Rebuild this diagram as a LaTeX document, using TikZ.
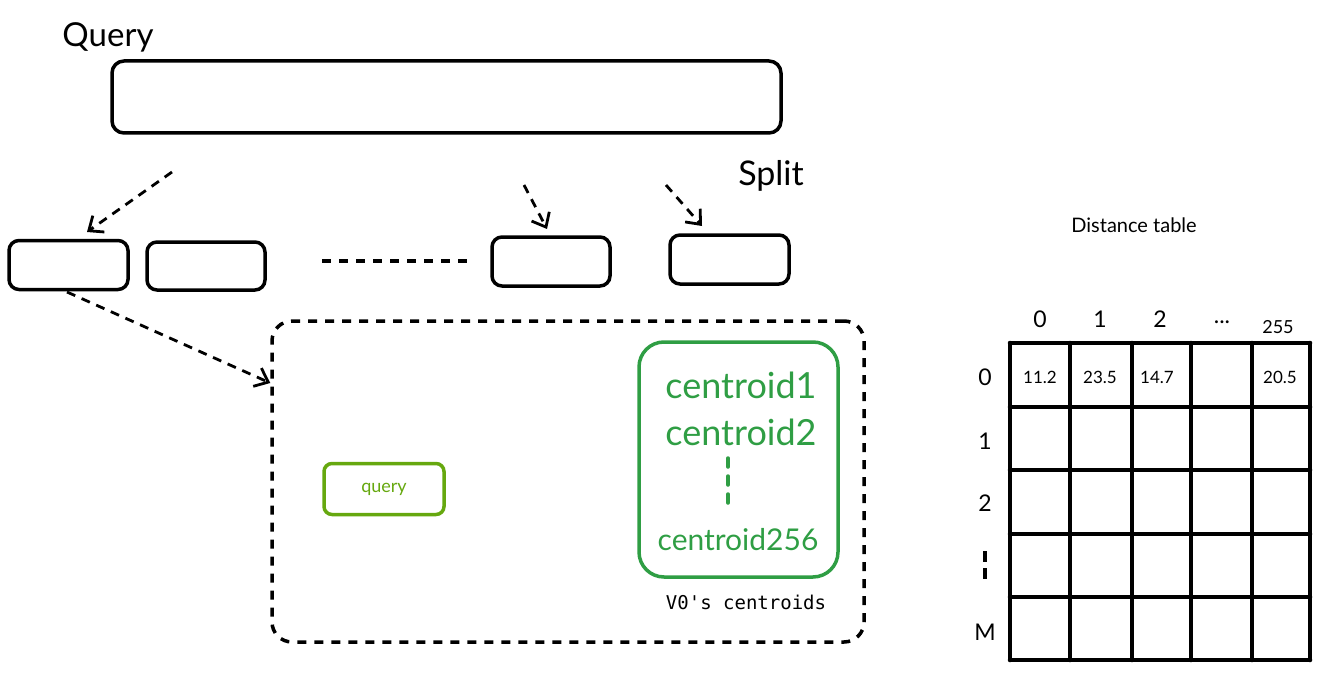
\documentclass[tikz,border=0pt]{standalone}
\usepackage{fontspec}
\setmainfont{Lato}
\newfontfamily\monofont{DejaVu Sans Mono}
\usetikzlibrary{arrows.meta}
\definecolor{cgreen}{HTML}{2F9E44}
\definecolor{qgreen}{HTML}{66A80F}
\tikzset{
  box/.style={draw, line width=3.5pt, rounded corners=10pt, minimum width=119pt, minimum height=49pt, inner sep=0pt},
  darr/.style={draw, line width=2.8pt, dash pattern=on 9pt off 7pt, -{Straight Barb[length=12pt,width=20pt,line width=2.8pt]}},
  dline/.style={draw, line width=3.5pt, dash pattern=on 9pt off 8pt},
  txt/.style={inner sep=0pt, font=\fontsize{#1}{#1}\selectfont},
  grid/.style={line width=4.5pt, line cap=round},
}
\begin{document}
\begin{tikzpicture}[x=1pt,y=-1pt]
\useasboundingbox (0,0) rectangle (1322,674);
% Query
\node[txt=33] (qlabel) at (108,37) {Query};
\node[box, minimum width=669pt, minimum height=72pt, rounded corners=12pt] (qbox) at (446.5,97) {};
\node[txt=34] (split) at (771,176) {Split};
% sub vectors
\node[box] (b1) at (68.5,265) {};
\node[box, minimum width=118pt, minimum height=48pt] (b2) at (206,266) {};
\node[box, minimum width=118pt] (b3) at (551,261.5) {};
\node[box] (b4) at (729.5,259.5) {};
\coordinate (d1) at (322,261);
\coordinate (d2) at (470,261);
\draw[dline] (d1) -- (d2);
% split arrows
\coordinate (s1) at (172,172);
\coordinate (e1) at (87,232);
\coordinate (s3) at (524,185);
\coordinate (e3) at (547,229);
\coordinate (s4) at (666,185);
\coordinate (e4) at (702,226);
\draw[darr] (s1) -- (e1);
\draw[darr] (s3) -- (e3);
\draw[darr] (s4) -- (e4);
% container
\node[draw, line width=3.5pt, dash pattern=on 9pt off 8pt, rounded corners=20pt, minimum width=592pt, minimum height=321pt, inner sep=0pt] (cont) at (568,481.5) {};
\coordinate (b1s) at (67,292);
\draw[darr] (b1s) -- (cont.west |- 0,383);
% query green
\node[draw=qgreen, line width=3.5pt, rounded corners=8pt, minimum width=120pt, minimum height=51pt, inner sep=0pt, text=qgreen, font=\fontsize{18}{18}\selectfont] (qg) at (384,489) {query};
% centroids
\node[draw=cgreen, line width=3.5pt, rounded corners=25pt, minimum width=199pt, minimum height=235pt, inner sep=0pt] (cb) at (738.5,459.5) {};
\node[txt=36, text=cgreen] (c1) at (741,385) {centroid1};
\node[txt=36, text=cgreen] (c2) at (741,432) {centroid2};
\coordinate (cd1) at (728,458);
\coordinate (cd2) at (728,508);
\draw[cgreen, line width=3.5pt, dash pattern=on 9pt off 9pt, line cap=round] (cd1) -- (cd2);
\node[txt=30, text=cgreen] (c256) at (738,540) {centroid256};
\node[inner sep=0pt, font=\monofont\fontsize{19}{19}\selectfont] (v0) at (746,602) {V0's centroids};
% distance table
\node[txt=20] (dt) at (1134,225) {Distance table};
\def\xs{{1010,1070,1132,1191,1252,1310}}
\def\ys{{343,407,470,534,597,660}}
\foreach \i in {0,...,5}{
  \pgfmathsetmacro{\xx}{\xs[\i]}
  \draw[grid] (\xx,343) -- (\xx,660);
  \pgfmathsetmacro{\yy}{\ys[\i]}
  \draw[grid] (1010,\yy) -- (1310,\yy);
}
\node[txt=23] (h0) at (1040,319) {0};
\node[txt=23] (h1) at (1100,319) {1};
\node[txt=23] (h2) at (1160,319) {2};
\node[txt=23] (h3) at (1222,322) {...};
\node[txt=18] (h4) at (1278,327) {255};
\node[txt=23] (r0) at (985,377) {0};
\node[txt=23] (r1) at (985,441) {1};
\node[txt=23] (r2) at (985,503) {2};
\coordinate (rd1) at (985,551);
\coordinate (rd2) at (985,580);
\draw[line width=3.5pt, dash pattern=on 11pt off 6pt] (rd1) -- (rd2);
\node[txt=23] (rm) at (985,632) {M};
\node[txt=17] (v00) at (1040,377) {11.2};
\node[txt=17] (v01) at (1100,377) {23.5};
\node[txt=17] (v02) at (1157,377) {14.7};
\node[txt=17] (v04) at (1280,377) {20.5};
\end{tikzpicture}
\end{document}
